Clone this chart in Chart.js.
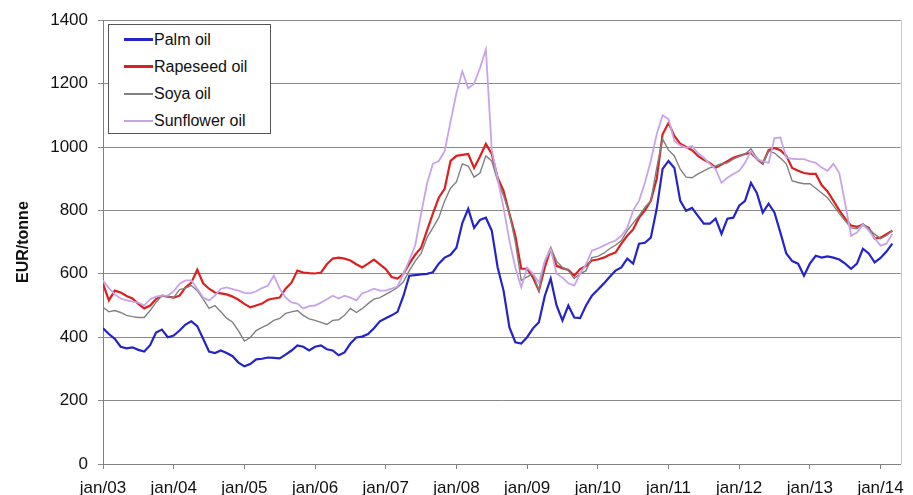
<!DOCTYPE html>
<html>
<head>
<meta charset="utf-8">
<title>Vegetable oil prices</title>
<script src="https://cdn.jsdelivr.net/npm/chart.js@4.4.0/dist/chart.umd.min.js"></script>
<style>
  html, body { margin: 0; padding: 0; background: #fff; }
  #wrap { position: relative; width: 913px; height: 495px; overflow: hidden; }
  #legend {
    position: absolute; left: 108px; top: 24px; width: 161px; height: 107px;
    border: 1px solid #555; background: #fff;
    font-family: "Liberation Sans", Arial, sans-serif; font-size: 16px; color: #111;
    padding-top: 1px;
  }
  .row { height: 27px; display: flex; align-items: center; }
  .swatch { width: 29px; margin-left: 15px; margin-right: 1px; }
</style>
</head>
<body>
<div id="wrap">
  <canvas id="oilChart" width="913" height="495"></canvas>
  <div id="legend"></div>
</div>
<script>
// Monthly prices, EUR/tonne, jan/03 .. mar/14
const palmOil = [
  428, 410, 395, 370, 365, 368, 360, 355, 375, 415, 424, 400,
  405, 421, 440, 450, 435, 395, 355, 350, 358, 350, 340, 320,
  308, 315, 330, 332, 336, 335, 333, 345, 358, 374, 370, 358,
  370, 374, 362, 358, 343, 352, 380, 399, 402, 410, 428, 450,
  460, 469, 480, 530, 594, 596, 598, 600, 605, 632, 651, 660,
  682, 760, 805, 745, 770, 777, 736, 620, 547, 431, 384, 380,
  400, 428, 447, 530, 585, 500, 453, 500, 462, 460, 500, 531,
  550, 569, 590, 610, 620, 648, 632, 695, 698, 714, 805, 931,
  956, 934, 830, 799, 808, 783, 758, 758, 774, 726, 774, 777,
  815, 830, 887, 855, 793, 821, 793, 730, 664, 640, 632, 594,
  632, 657, 651, 655, 651, 645, 632, 616, 632, 679, 664, 636,
  650, 670, 695
];
const rapeseedOil = [
  569, 516, 547, 541, 530, 522, 505, 491, 500, 520, 531, 528,
  525, 531, 557, 572, 613, 570, 553, 541, 538, 535, 528, 518,
  505, 494, 500, 506, 518, 522, 525, 553, 572, 610, 604, 602,
  601, 604, 630, 648, 651, 648, 642, 630, 620, 632, 645, 630,
  615, 590, 585, 600, 632, 660, 682, 736, 790, 840, 868, 956,
  972, 975, 978, 934, 970, 1010, 978, 903, 862, 789, 720, 616,
  616, 588, 547, 620, 679, 625, 618, 612, 594, 615, 625, 642,
  645, 651, 660, 667, 695, 720, 740, 777, 800, 830, 900, 1040,
  1076, 1035, 1010, 1000, 990, 972, 960, 950, 935, 945, 955, 966,
  972, 978, 981, 962, 947, 990, 997, 990, 972, 934, 925, 918,
  915, 915, 880, 860, 830, 800, 774, 752, 748, 755, 745, 711,
  714, 725, 736
];
const soyaOil = [
  494, 480, 484, 478, 469, 465, 462, 462, 484, 510, 531, 528,
  525, 550, 555, 563, 547, 520, 491, 500, 480, 460, 447, 420,
  388, 399, 421, 431, 440, 453, 459, 475, 480, 484, 469, 458,
  453, 447, 440, 453, 455, 469, 491, 478, 490, 506, 520, 525,
  535, 545, 557, 575, 610, 640, 664, 714, 745, 777, 830, 870,
  890, 947, 940, 905, 918, 972, 956, 893, 846, 789, 700, 579,
  590, 600, 547, 640, 682, 640, 620, 610, 585, 600, 610, 651,
  655, 665, 679, 690, 705, 736, 760, 783, 810, 830, 934, 1025,
  990, 972, 930, 905, 903, 915, 925, 934, 940, 947, 950, 962,
  970, 978, 994, 966, 947, 987, 981, 965, 947, 893, 888, 884,
  884, 870, 855, 840, 815, 790, 767, 745, 742, 758, 742, 725,
  711, 720, 736
];
const sunflowerOil = [
  579, 555, 535, 522, 516, 512, 509, 500, 520, 528, 531, 531,
  545, 569, 579, 579, 553, 525, 516, 531, 553, 557, 552, 547,
  540, 538, 545, 555, 563, 594, 553, 525, 510, 506, 491, 498,
  500, 509, 520, 531, 522, 531, 525, 516, 538, 545, 553, 547,
  547, 553, 560, 600, 642, 690, 789, 884, 947, 956, 987, 1080,
  1170, 1239, 1185, 1200, 1249, 1308, 990, 900, 808, 704, 620, 557,
  620, 600, 572, 640, 679, 600, 588, 570, 563, 600, 630, 673,
  680, 689, 698, 705, 720, 745, 800, 830, 887, 956, 1040, 1100,
  1088, 1019, 1005, 997, 1003, 980, 966, 947, 930, 887, 903, 915,
  925, 950, 987, 962, 955, 950, 1028, 1030, 966, 963, 962, 962,
  955, 950, 935, 925, 947, 918, 821, 720, 730, 755, 736, 712,
  689, 695, 726
];

const seriesNames = ["Palm oil", "Rapeseed oil", "Soya oil", "Sunflower oil"];
const seriesColors = ["#2424c8", "#dc2020", "#808080", "#c9a3ea"];
const seriesWidths = [2.2, 2.2, 1.4, 1.8];
const yearLabels = ["jan/03", "jan/04", "jan/05", "jan/06", "jan/07", "jan/08",
                    "jan/09", "jan/10", "jan/11", "jan/12", "jan/13", "jan/14"];

// month index 0 = jan/03
const months = palmOil.map((_, i) => i);
const allSeries = [palmOil, rapeseedOil, soyaOil, sunflowerOil];

const font = "'Liberation Sans', Arial, sans-serif";

// thin light border on the right side of the plot, like the original
const rightBorder = {
  id: "rightBorder",
  afterDraw(chart) {
    const a = chart.chartArea;
    const ctx = chart.ctx;
    ctx.save();
    ctx.strokeStyle = "#c8c8c8";
    ctx.lineWidth = 1;
    ctx.beginPath();
    ctx.moveTo(Math.round(a.right) + 0.5, a.top);
    ctx.lineTo(Math.round(a.right) + 0.5, a.bottom);
    ctx.stroke();
    ctx.restore();
  }
};

const ctx = document.getElementById("oilChart").getContext("2d");
new Chart(ctx, {
  type: "line",
  data: {
    labels: months,
    datasets: allSeries.map((values, i) => ({
      label: seriesNames[i],
      data: values,
      borderColor: seriesColors[i],
      backgroundColor: seriesColors[i],
      borderWidth: seriesWidths[i],
      pointRadius: 0,
      tension: 0,
      fill: false,
      order: allSeries.length - i
    }))
  },
  options: {
    responsive: false,
    animation: false,
    layout: { padding: { top: 19, right: 12, bottom: 0, left: 0 } },
    plugins: {
      legend: { display: false },
      tooltip: { enabled: false }
    },
    scales: {
      x: {
        type: "linear",
        min: 0,
        max: 135.4,
        afterFit(scale) { scale.height = 31; },
        afterBuildTicks(scale) {
          scale.ticks = yearLabels.map((_, i) => ({ value: i * 12 }));
        },
        ticks: {
          autoSkip: false,
          maxRotation: 0,
          padding: 9,
          color: "#111",
          font: { family: font, size: 17 },
          callback: (value) => yearLabels[Math.round(value / 12)]
        },
        grid: {
          drawOnChartArea: false,
          tickLength: 5,
          color: "#808080"
        },
        border: { color: "#808080", width: 1 }
      },
      y: {
        min: 0,
        max: 1400,
        afterFit(scale) { scale.width = 103; },
        ticks: {
          stepSize: 200,
          padding: 10,
          color: "#111",
          font: { family: font, size: 17 },
          callback: (value) => String(value)
        },
        grid: {
          color: "#8a8a8a",
          tickLength: 5
        },
        border: { color: "#808080", width: 1 },
        title: {
          display: true,
          text: "EUR/tonne",
          color: "#111",
          font: { family: font, size: 16, weight: "bold" },
          padding: { top: 14, bottom: 0 }
        }
      }
    }
  },
  plugins: [rightBorder]
});

// legend box drawn as HTML, from the same names/colours
const legendEl = document.getElementById("legend");
seriesNames.forEach((name, i) => {
  const row = document.createElement("div");
  row.className = "row";
  const sw = document.createElement("div");
  sw.className = "swatch";
  sw.style.borderTop = Math.max(1, Math.round(seriesWidths[i] + 0.6)) + "px solid " + seriesColors[i];
  const txt = document.createElement("span");
  txt.textContent = name;
  row.appendChild(sw);
  row.appendChild(txt);
  legendEl.appendChild(row);
});
</script>
</body>
</html>
